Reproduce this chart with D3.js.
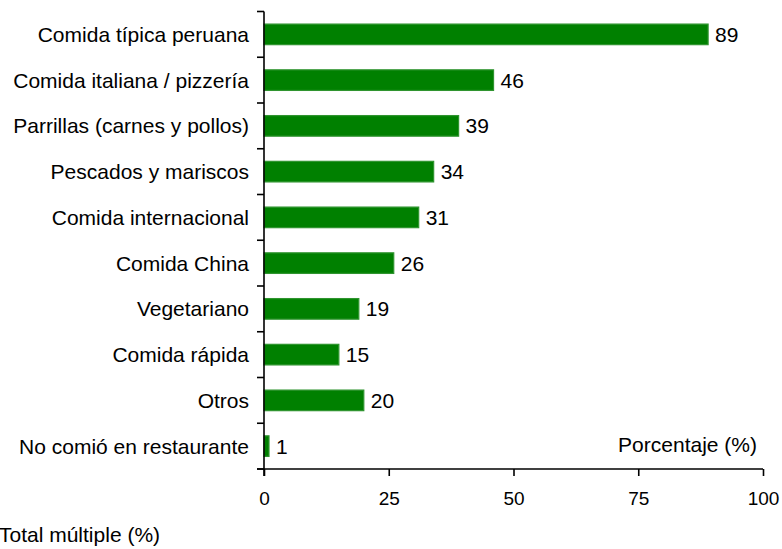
<!DOCTYPE html>
<html>
<head>
<meta charset="utf-8">
<script src="https://cdn.jsdelivr.net/npm/d3@7"></script>
<style>
  html, body { margin: 0; padding: 0; background: #fff; }
  svg { display: block; font-family: Arial, "Liberation Sans", sans-serif; }
</style>
</head>
<body>
<svg id="chart" width="782" height="549"></svg>
<script>
// Restaurant type preferences, multiple response (%)
const categories = [
  "Comida típica peruana",
  "Comida italiana / pizzería",
  "Parrillas (carnes y pollos)",
  "Pescados y mariscos",
  "Comida internacional",
  "Comida China",
  "Vegetariano",
  "Comida rápida",
  "Otros",
  "No comió en restaurante"
];
const values = [89, 46, 39, 34, 31, 26, 19, 15, 20, 1];
const xTicks = [0, 25, 50, 75, 100];

const svg = d3.select("#chart");

const x = d3.scaleLinear().domain([0, 100]).range([264, 763]);
const yTop = 11.5, yBottom = 469;
const y = d3.scaleBand().domain(categories).range([yTop, yBottom]).paddingInner(0.55).paddingOuter(0.275);
const step = y.step();

// bars
svg.append("g").selectAll("rect")
  .data(categories)
  .join("rect")
  .attr("x", x(0))
  .attr("y", d => y(d))
  .attr("width", (d, i) => x(values[i]) - x(0))
  .attr("height", y.bandwidth())
  .attr("fill", "#008000")
  .attr("stroke", "#2f942f")
  .attr("stroke-width", 1.2);

// value labels
svg.append("g").selectAll("text")
  .data(categories)
  .join("text")
  .attr("x", (d, i) => x(values[i]) + 7)
  .attr("y", d => y(d) + y.bandwidth() / 2)
  .attr("dy", "0.36em")
  .attr("font-size", 21)
  .attr("fill", "#000")
  .text((d, i) => values[i]);

// category labels
svg.append("g").selectAll("text")
  .data(categories)
  .join("text")
  .attr("x", 249)
  .attr("y", d => y(d) + y.bandwidth() / 2)
  .attr("dy", "0.36em")
  .attr("text-anchor", "end")
  .attr("font-size", 21)
  .attr("fill", "#000")
  .text(d => d);

// y axis line and band boundary ticks
const axes = svg.append("g").attr("stroke", "#000").attr("stroke-width", 1.6);
axes.append("line")
  .attr("x1", x(0)).attr("x2", x(0))
  .attr("y1", yTop).attr("y2", yBottom + 7);
axes.selectAll("line.yt")
  .data(d3.range(categories.length + 1))
  .join("line")
  .attr("class", "yt")
  .attr("x1", x(0) - 7).attr("x2", x(0))
  .attr("y1", i => yTop + i * step)
  .attr("y2", i => yTop + i * step);

// x axis
const xAxis = d3.axisBottom(x).tickValues(xTicks).tickSize(7).tickPadding(16);
const gx = svg.append("g").attr("transform", `translate(0,${yBottom})`).call(xAxis);
gx.select(".domain").attr("stroke", "#000").attr("stroke-width", 1.6)
  .attr("d", `M${x(0) - 7},0H${x(100)}`);
gx.selectAll(".tick line").attr("stroke", "#000").attr("stroke-width", 1.6);
gx.selectAll(".tick text").attr("font-size", 19).attr("fill", "#000")
  .attr("font-family", "Arial, 'Liberation Sans', sans-serif");

// annotations
svg.append("text")
  .attr("x", 757).attr("y", 452)
  .attr("text-anchor", "end")
  .attr("font-size", 21)
  .text("Porcentaje (%)");

svg.append("text")
  .attr("x", -1).attr("y", 542)
  .attr("font-size", 21)
  .text("Total múltiple (%)");
</script>
</body>
</html>
